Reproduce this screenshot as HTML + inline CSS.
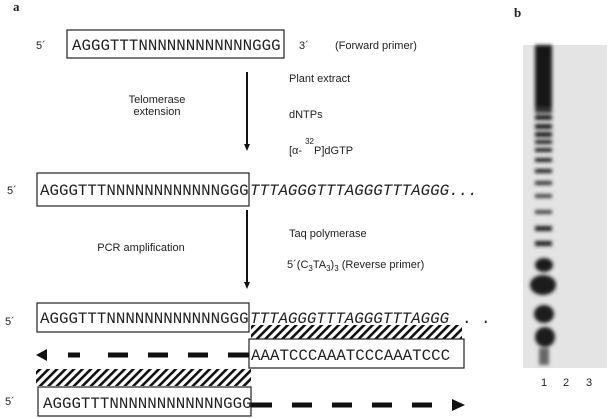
<!DOCTYPE html>
<html><head><meta charset="utf-8"><style>
html,body{margin:0;padding:0;background:#fff;}
svg{display:block}
.s{font-family:"Liberation Sans",sans-serif;font-size:11px;fill:#222}
.m{font-family:"Liberation Mono",monospace;font-size:15.8px;fill:#222}
.i{font-family:"Liberation Mono",monospace;font-size:15.8px;font-style:italic;fill:#222}
</style></head><body>
<svg width="608" height="419" viewBox="0 0 608 419" xmlns="http://www.w3.org/2000/svg">
<defs>
<pattern id="h" width="6" height="6" patternUnits="userSpaceOnUse" patternTransform="rotate(45)">
<rect width="2.6" height="6" fill="#111"/>
</pattern>
<filter id="b"><feGaussianBlur stdDeviation="1.8"/></filter>
</defs>
<text x="13" y="11" font-family="Liberation Serif" font-size="13" font-weight="bold" fill="#222">a</text>
<text x="36" y="49" class="s">5´</text>
<rect x="67" y="30" width="217" height="28" fill="none" stroke="#222" stroke-width="1.2"/>
<text x="72" y="50" class="m">AGGGTTTNNNNNNNNNNNNGGG</text>
<text x="299" y="49" class="s">3´</text>
<text x="335" y="49" class="s">(Forward primer)</text>
<line x1="247" y1="72" x2="247" y2="146" stroke="#111" stroke-width="2"/>
<path d="M244,144 L250,144 L247,151 Z" fill="#111"/>
<text x="157" y="103" class="s" text-anchor="middle">Telomerase</text>
<text x="157" y="115" class="s" text-anchor="middle">extension</text>
<text x="289" y="82" class="s">Plant extract</text>
<text x="289" y="118" class="s">dNTPs</text>
<text x="289" y="154" class="s">[α-<tspan font-size="8" dx="3" dy="-10">32</tspan><tspan dy="10">P]dGTP</tspan></text>

<text x="7" y="194" class="s">5´</text>
<rect x="37" y="173" width="212" height="33" fill="none" stroke="#222" stroke-width="1.2"/>
<text x="40" y="195" class="m">AGGGTTTNNNNNNNNNNNNGGG</text>
<text x="250" y="195" class="i">TTTAGGGTTTAGGGTTTAGGG...</text>
<line x1="247" y1="210" x2="247" y2="284" stroke="#111" stroke-width="2"/>
<path d="M244,282 L250,282 L247,289 Z" fill="#111"/>
<text x="141" y="251" class="s" text-anchor="middle">PCR amplification</text>
<text x="289" y="237" class="s">Taq polymerase</text>
<text x="287" y="268" class="s">5´(C<tspan font-size="8" dy="3">3</tspan><tspan dy="-3">TA</tspan><tspan font-size="8" dy="3">3</tspan><tspan dy="-3">)</tspan><tspan font-size="8" dy="3">3</tspan><tspan dy="-3"> (Reverse primer)</tspan></text>

<text x="5" y="325" class="s">5´</text>
<rect x="251" y="325" width="211" height="14" fill="url(#h)"/>
<rect x="37" y="303" width="212" height="29" fill="#fff" stroke="#222" stroke-width="1.2"/>
<text x="40" y="323" class="m">AGGGTTTNNNNNNNNNNNNGGG</text>
<text x="250" y="323" class="i">TTTAGGGTTTAGGGTTTAGGG</text>
<text x="462" y="323" class="m">. .</text>
<rect x="249" y="339" width="215" height="29" fill="#fff" stroke="#222" stroke-width="1.2"/>
<text x="251" y="360" class="m">AAATCCCAAATCCCAAATCCC</text>
<path d="M36,355 L47,349 L47,361 Z" fill="#111"/>
<g stroke="#111" stroke-width="5"><line x1="68" y1="355" x2="80" y2="355"/><line x1="108" y1="355" x2="128" y2="355"/><line x1="148" y1="355" x2="168" y2="355"/><line x1="188" y1="355" x2="208" y2="355"/><line x1="228" y1="355" x2="249" y2="355"/></g>
<rect x="36" y="369" width="215" height="17" fill="url(#h)"/>
<text x="5" y="405" class="s">5´</text>
<rect x="38" y="387" width="213" height="29" fill="none" stroke="#222" stroke-width="1.2"/>
<text x="43" y="408" class="m">AGGGTTTNNNNNNNNNNNNGGG</text>
<g stroke="#111" stroke-width="5"><line x1="251" y1="405" x2="272" y2="405"/><line x1="292" y1="405" x2="312" y2="405"/><line x1="332" y1="405" x2="352" y2="405"/><line x1="372" y1="405" x2="392" y2="405"/><line x1="412" y1="405" x2="432" y2="405"/></g>
<path d="M452,399 L465,405 L452,411 Z" fill="#111"/>

<text x="514" y="17" font-family="Liberation Serif" font-size="13" font-weight="bold" fill="#222">b</text>
<rect x="523" y="45" width="84" height="323" fill="#e4e4e4"/>
<g filter="url(#b)" fill="#1a1a1a">
<rect x="535" y="45" width="17" height="62" fill="#151515"/>
<rect x="535" y="107" width="17" height="6" fill="#333"/>
<rect x="535" y="115" width="17" height="5"/><rect x="535" y="124" width="17" height="5"/><rect x="535" y="132" width="17" height="5"/>
<rect x="535" y="140" width="17" height="4"/><rect x="535" y="148" width="17" height="4"/><rect x="535" y="158" width="17" height="4"/>
<rect x="535" y="169" width="17" height="4"/><rect x="535" y="181" width="17" height="4" fill="#333"/><rect x="535" y="194" width="17" height="4" fill="#444"/>
<rect x="535" y="210" width="17" height="4" fill="#444"/><rect x="535" y="226" width="17" height="5" fill="#222"/><rect x="535" y="241" width="17" height="5" fill="#222"/>
<ellipse cx="544" cy="265" rx="9" ry="7"/>
<ellipse cx="543" cy="285" rx="13" ry="10"/>
<ellipse cx="544" cy="314" rx="10" ry="9"/>
<ellipse cx="545" cy="337" rx="10" ry="10"/>
<rect x="539" y="348" width="10" height="17" fill="#666"/>
</g>
<text x="541" y="386" class="s">1</text><text x="563" y="386" class="s">2</text><text x="586" y="386" class="s">3</text>
</svg>
</body></html>
